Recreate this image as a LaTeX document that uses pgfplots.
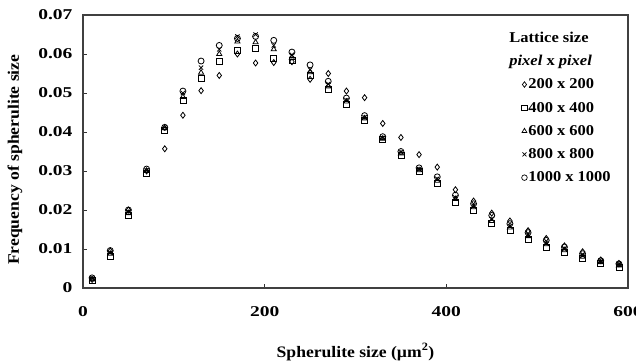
\documentclass[border=0pt]{standalone}
\usepackage{fontspec}
\setmainfont{Liberation Serif}[FakeStretch=1.1]
\newfontfamily\tickfont{Liberation Serif}[FakeStretch=1.3]
\usepackage{pgfplots}
\usepackage{pgfplotstable}
\pgfplotsset{compat=1.18}

% Spherulite size distribution for five lattice sizes
% columns: bin centre, 200x200, 400x400, 600x600, 800x800, 1000x1000
\pgfplotstableread{
x    d      s      t      c      o
10   0.0022 0.0020 0.0022 0.0024 0.0026
30   0.0095 0.0080 0.0088 0.0090 0.0096
50   0.0200 0.0185 0.0192 0.0196 0.0200
70   0.0300 0.0295 0.0300 0.0302 0.0305
90   0.0357 0.0405 0.0410 0.0412 0.0412
110  0.0443 0.0480 0.0490 0.0500 0.0505
130  0.0506 0.0538 0.0552 0.0565 0.0582
150  0.0545 0.0580 0.0600 0.0612 0.0622
170  0.0600 0.0610 0.0632 0.0645 0.0640
190  0.0577 0.0615 0.0630 0.0650 0.0645
210  0.0578 0.0590 0.0612 0.0622 0.0635
230  0.0580 0.0583 0.0590 0.0598 0.0605
250  0.0535 0.0545 0.0553 0.0560 0.0572
270  0.0550 0.0508 0.0517 0.0523 0.0530
290  0.0505 0.0470 0.0478 0.0482 0.0487
310  0.0488 0.0430 0.0435 0.0438 0.0442
330  0.0422 0.0380 0.0383 0.0385 0.0388
350  0.0386 0.0340 0.0345 0.0348 0.0350
370  0.0342 0.0298 0.0302 0.0305 0.0308
390  0.0310 0.0268 0.0275 0.0280 0.0285
410  0.0252 0.0220 0.0228 0.0232 0.0238
430  0.0223 0.0200 0.0207 0.0211 0.0216
450  0.0192 0.0165 0.0172 0.0177 0.0186
470  0.0172 0.0148 0.0155 0.0159 0.0165
490  0.0147 0.0125 0.0133 0.0137 0.0142
510  0.0127 0.0105 0.0112 0.0115 0.0122
530  0.0108 0.0092 0.0097 0.0100 0.0105
550  0.0093 0.0075 0.0080 0.0083 0.0088
570  0.0072 0.0062 0.0066 0.0068 0.0070
590  0.0063 0.0052 0.0058 0.0060 0.0062
}\spherulite

\begin{document}
\begin{tikzpicture}
\begin{axis}[
  at={(0,0)}, anchor=south west,
  scale only axis, width=545pt, height=273pt,
  xmin=0, xmax=600, ymin=0, ymax=0.07,
  scaled y ticks=false,
  xtick={0,200,400,600}, xticklabels={0,200,400,600},
  ytick={0,0.01,0.02,0.03,0.04,0.05,0.06,0.07},
  yticklabels={0,0.01,0.02,0.03,0.04,0.05,0.06,0.07},
  tick pos=left, tick align=inside, major tick length=4pt,
  tick style={black!80, line width=0.8pt},
  axis line style={black!75, line width=1.3pt},
  ticklabel style={font=\fontsize{15}{18}\selectfont\tickfont\bfseries},
  /pgf/number format/assume math mode=true,
  xticklabel style={yshift=-15pt},
  yticklabel style={xshift=-7pt},
  xlabel={Spherulite size (µm\textsuperscript{2})},
  ylabel={Frequency of spherulite size},
  label style={font=\fontsize{16}{19}\selectfont\bfseries},
  xlabel style={at={(axis description cs:0.5,-0.234)}, anchor=center},
  ylabel style={at={(axis description cs:-0.125,0.47)}, anchor=center},
  legend image code/.code={\draw[mark size=2.8pt, line width=0.7pt] plot coordinates {(0pt,0pt)};},
  legend cell align=left,
  legend style={draw=none, fill=none, at={(rel axis cs:0.799,0.778)}, anchor=north west,
    font=\fontsize{15}{18}\selectfont\bfseries, row sep=9.8pt,
    nodes={inner sep=1pt}},
]
\addplot[only marks, black, mark=diamond, mark size=3pt, line width=0.8pt]
  table[x=x, y=d] {\spherulite};
\addlegendentry{200 x 200}
\addplot[only marks, black, mark=square, mark size=3pt, line width=0.8pt]
  table[x=x, y=s] {\spherulite};
\addlegendentry{400 x 400}
\addplot[only marks, black, mark=triangle, mark size=3pt, line width=0.8pt]
  table[x=x, y=t] {\spherulite};
\addlegendentry{600 x 600}
\addplot[only marks, black, mark=x, mark size=3pt, line width=0.8pt]
  table[x=x, y=c] {\spherulite};
\addlegendentry{800 x 800}
\addplot[only marks, black, mark=o, mark size=3pt, line width=0.8pt]
  table[x=x, y=o] {\spherulite};
\addlegendentry{1000 x 1000}
\node[anchor=west, font=\fontsize{15}{18}\selectfont\bfseries, inner sep=0pt]
  at (rel axis cs:0.782,0.918) {Lattice size};
\node[anchor=west, font=\fontsize{15}{18}\selectfont\bfseries, inner sep=0pt]
  at (rel axis cs:0.782,0.83) {\textit{pixel} x \textit{pixel}};
\end{axis}
\pgfresetboundingbox
\path[use as bounding box] (-83pt,-74pt) rectangle (553pt,288pt);
\end{tikzpicture}
\end{document}
